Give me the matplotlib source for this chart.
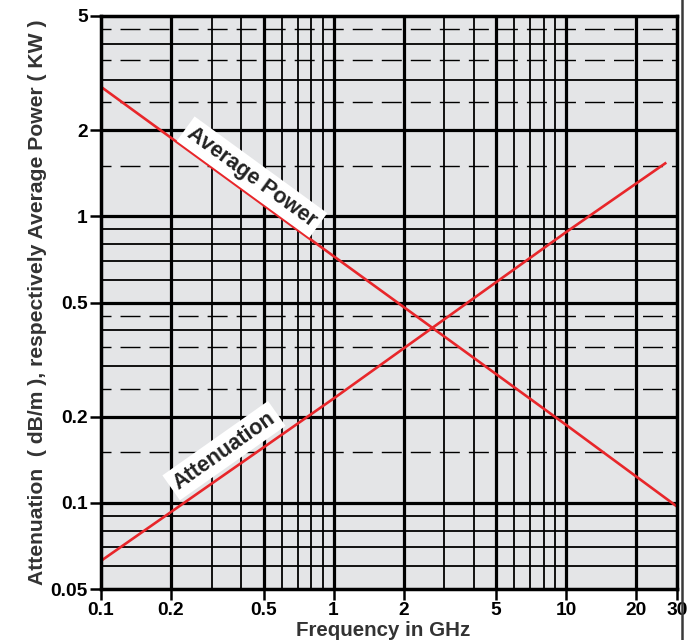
import numpy as np
import matplotlib
matplotlib.use("Agg")
import matplotlib.pyplot as plt
from matplotlib.lines import Line2D

plt.rcParams['font.family'] = ['Liberation Sans', 'DejaVu Sans']
plt.rcParams['lines.scale_dashes'] = False

# Straight-line characteristics on log-log axes (frequency in GHz)
power_freq = [0.1, 1.0, 10.0, 30.0]
power_kw = [2.83, 0.726, 0.187, 0.097]
atten_freq = [0.1, 1.0, 10.0, 26.7]
atten_db = [0.0627, 0.231, 0.88, 1.53]

x_ticks = [0.1, 0.2, 0.5, 1, 2, 5, 10, 20, 30]
x_tick_labels = ["0.1", "0.2", "0.5", "1", "2", "5", "10", "20", "30"]
y_ticks = [0.05, 0.1, 0.2, 0.5, 1, 2, 5]
y_tick_labels = ["0.05", "0.1", "0.2", "0.5", "1", "2", "5"]

# Chart-paper grid
v_major = [0.2, 0.5, 1, 2, 5, 10, 20]
v_minor = [0.3, 0.4, 0.6, 0.7, 0.8, 0.9, 3, 4, 6, 7, 8, 9]
h_major = [0.1, 0.2, 0.5, 1, 2]
h_minor = [0.06, 0.07, 0.08, 0.09, 0.3, 0.4, 0.6, 0.7, 0.8, 0.9, 3, 4]
h_dashed = [0.15, 0.25, 0.35, 0.45, 1.5, 2.5, 3.5, 4.5]

fig = plt.figure(figsize=(6.98, 6.40), dpi=100)
ax = fig.add_axes([101 / 698, 1 - 589 / 640, 576 / 698, 573 / 640])
ax.set_facecolor('#e4e5e7')
ax.set_xscale('log')
ax.set_yscale('log')
ax.set_xlim(0.1, 30)
ax.set_ylim(0.05, 5)

for v in v_major:
    ax.axvline(v, color='black', lw=2.3, zorder=1)
for v in v_minor:
    ax.axvline(v, color='black', lw=1.3, zorder=1)
for h in h_major:
    ax.axhline(h, color='black', lw=2.3, zorder=1)
for h in h_minor:
    ax.axhline(h, color='black', lw=1.3, zorder=1)
for h in h_dashed:
    ax.axhline(h, color='black', lw=1.0, zorder=1,
               linestyle=(7.2, (14.4, 6.5)))

red = '#e8262a'
ax.plot(power_freq, power_kw, color=red, lw=1.9, zorder=3)
ax.plot(atten_freq, atten_db, color=red, lw=1.9, zorder=3)

for s in ax.spines.values():
    s.set_linewidth(2.5)
    s.set_color('black')
    s.set_zorder(4)

ax.minorticks_off()
ax.set_xticks(x_ticks)
ax.set_xticklabels(x_tick_labels)
ax.set_yticks(y_ticks)
ax.set_yticklabels(y_tick_labels)
ax.tick_params(axis='both', which='major', length=8, width=1.8, color='black',
               labelsize=13.8, pad=1.5)
for lab in ax.get_xticklabels() + ax.get_yticklabels():
    lab.set_fontweight('bold')

ax.set_xlabel('Frequency in GHz', fontsize=14.8, fontweight='bold',
              color='#333333')
ax.set_ylabel('Attenuation  ( dB/m ), respectively Average Power ( KW )',
              fontsize=15.2, fontweight='bold', color='#333333')
ax.xaxis.set_label_coords(0.49, -0.056)
ax.yaxis.set_label_coords(-0.094, 0.5)


def line_angle(xs, ys):
    p0 = ax.transData.transform((xs[0], ys[0]))
    p1 = ax.transData.transform((xs[-1], ys[-1]))
    return np.degrees(np.arctan2(p1[1] - p0[1], p1[0] - p0[0]))


box = dict(boxstyle='square,pad=0.22', facecolor='white', edgecolor='none')
ax.text(0.446, 1.37, 'Average Power', rotation=line_angle(power_freq, power_kw),
        rotation_mode='anchor', ha='center', va='center', fontsize=15.5,
        fontweight='bold', color='#222222', bbox=box, zorder=5)
ax.text(0.338, 0.152, 'Attenuation', rotation=line_angle(atten_freq, atten_db),
        rotation_mode='anchor', ha='center', va='center', fontsize=15.5,
        fontweight='bold', color='#222222', bbox=box, zorder=5)

fig.add_artist(Line2D([682 / 698, 682 / 698], [0, 1], transform=fig.transFigure,
                      color='#3a3a3a', lw=1.8))

fig.savefig('out.png', dpi=100)
